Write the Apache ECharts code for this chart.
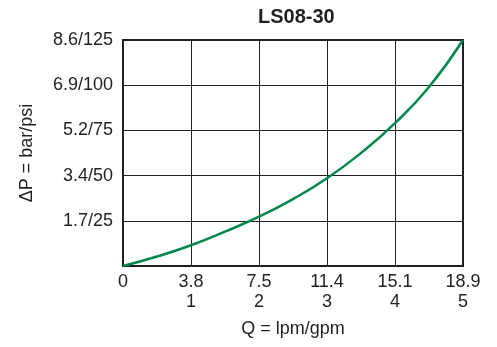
<!DOCTYPE html>
<html><head><meta charset="utf-8">
<script src="https://cdn.jsdelivr.net/npm/echarts@6/dist/echarts.min.js"></script>
<style>html,body{margin:0;padding:0;background:#fff}#c{width:497px;height:347px}</style>
</head><body><div id="c"></div>
<script>
const title = 'LS08-30';
const xLpm = ['0', '3.8', '7.5', '11.4', '15.1', '18.9'];
const xGpm = ['', '1', '2', '3', '4', '5'];
const yLabels = ['', '1.7/25', '3.4/50', '5.2/75', '6.9/100', '8.6/125'];
const flowGpm = [0, 0.5, 1, 1.5, 2, 2.5, 3, 3.5, 4, 4.5, 5];
const pressure = [0, 0.21, 0.46, 0.76, 1.09, 1.48, 1.94, 2.5, 3.16, 3.96, 5.0];

const ink = '#231f20';
const font = 'Liberation Sans, Arial, Helvetica, sans-serif';
const chart = echarts.init(document.getElementById('c'), null, {renderer: 'canvas'});
chart.setOption({
  animation: false,
  backgroundColor: '#fff',
  title: {text: title, left: 253, top: 2, textStyle: {fontFamily: font, fontSize: 20, fontWeight: 'bold', color: ink}},
  grid: {left: 123, right: 34, top: 40, bottom: 81, show: true, borderColor: ink, borderWidth: 2, backgroundColor: 'transparent'},
  xAxis: {
    type: 'value', min: 0, max: 5, interval: 1,
    name: 'Q = lpm/gpm', nameLocation: 'middle', nameGap: 54,
    nameTextStyle: {fontFamily: font, fontSize: 18, color: ink},
    axisLine: {show: true, lineStyle: {color: ink, width: 2}},
    axisTick: {show: false},
    splitLine: {show: true, lineStyle: {color: ink, width: 1}},
    axisLabel: {
      margin: 6, fontFamily: font, fontSize: 18, color: ink, lineHeight: 20,
      formatter: v => { const i = Math.round(v); return xGpm[i] ? xLpm[i] + '\n' + xGpm[i] : xLpm[i]; }
    }
  },
  yAxis: {
    type: 'value', min: 0, max: 5, interval: 1,
    name: 'ΔP = bar/psi', nameLocation: 'middle', nameGap: 87,
    nameTextStyle: {fontFamily: font, fontSize: 18, color: ink},
    axisLine: {show: true, lineStyle: {color: ink, width: 2}},
    axisTick: {show: false},
    splitLine: {show: true, lineStyle: {color: ink, width: 1}},
    axisLabel: {margin: 10, fontFamily: font, fontSize: 18, color: ink, formatter: v => yLabels[Math.round(v)]}
  },
  series: [{
    type: 'line', smooth: true, showSymbol: false,
    data: flowGpm.map((x, i) => [x, pressure[i]]),
    lineStyle: {color: '#00884a', width: 2.5}
  }]
});
</script></body></html>
